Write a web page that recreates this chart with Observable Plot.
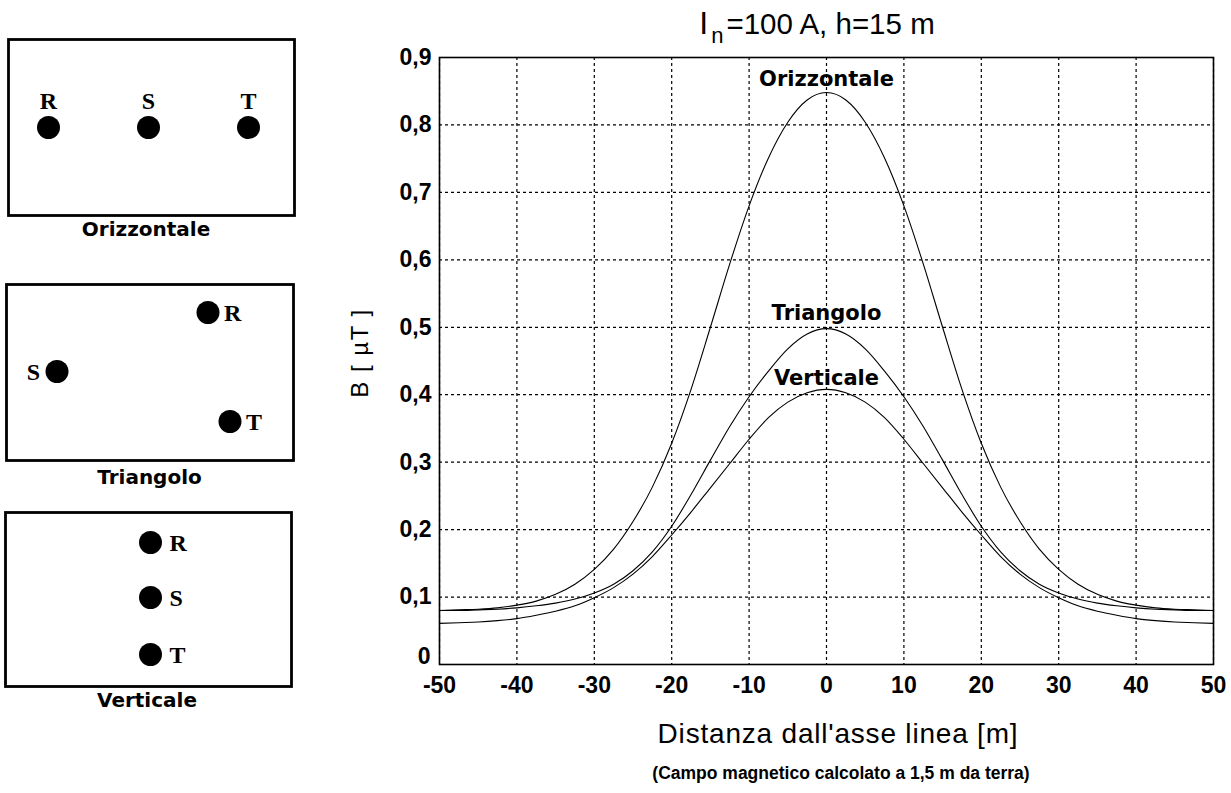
<!DOCTYPE html>
<html>
<head>
<meta charset="utf-8">
<script src="https://cdn.jsdelivr.net/npm/d3@7"></script>
<script src="https://cdn.jsdelivr.net/npm/@observablehq/plot@0.6"></script>
<style>
  html, body { margin: 0; padding: 0; background: white; }
  #root { position: relative; width: 1231px; height: 793px; overflow: hidden; background: white; }
  .abs { position: absolute; }
  .cond { font-family: "DejaVu Sans", "Liberation Sans", Arial, sans-serif; font-weight: bold; }
  .boldarial { font-family: "Liberation Sans Narrow", "Liberation Sans", Arial, sans-serif; font-weight: bold; }
  .arial { font-family: "Liberation Sans", Arial, sans-serif; }
</style>
</head>
<body>
<div id="root"></div>
<script>
// ---------- data ----------
const distance = [-50,-47.5,-45,-42.5,-40,-37.5,-35,-32.5,-30,-27.5,-25,-22.5,-20,-17.5,-15,-12.5,-10,-7.5,-5,-2.5,0,
                  2.5,5,7.5,10,12.5,15,17.5,20,22.5,25,27.5,30,32.5,35,37.5,40,42.5,45,47.5,50];
const orizzontale = [0.080,0.081,0.082,0.084,0.088,0.094,0.104,0.119,0.141,0.171,0.212,0.263,0.328,0.408,0.500,0.594,0.680,0.751,0.804,0.837,0.848,
                     0.837,0.804,0.751,0.680,0.594,0.500,0.408,0.328,0.263,0.212,0.171,0.141,0.119,0.104,0.094,0.088,0.084,0.082,0.081,0.080];
const triangolo = [0.080,0.080,0.081,0.082,0.084,0.087,0.091,0.097,0.106,0.119,0.139,0.167,0.205,0.252,0.303,0.353,0.397,0.435,0.468,0.490,0.498,
                   0.490,0.468,0.435,0.397,0.353,0.303,0.252,0.205,0.167,0.139,0.119,0.106,0.097,0.091,0.087,0.084,0.082,0.081,0.080,0.080];
const verticale = [0.061,0.062,0.063,0.065,0.068,0.073,0.079,0.087,0.099,0.114,0.134,0.160,0.192,0.226,0.262,0.298,0.334,0.366,0.389,0.403,0.408,
                   0.403,0.389,0.366,0.334,0.298,0.262,0.226,0.192,0.160,0.134,0.114,0.099,0.087,0.079,0.073,0.068,0.065,0.063,0.062,0.061];
const configNames = ["Orizzontale","Triangolo","Verticale"];
const curveLabelX = [0, 0, 0];
const curveLabelY = [0.868, 0.521, 0.424];
const xTicks = [-50,-40,-30,-20,-10,0,10,20,30,40,50];
const xTickLabels = ["-50","-40","-30","-20","-10","0","10","20","30","40","50"];
const yTicks = [0,0.1,0.2,0.3,0.4,0.5,0.6,0.7,0.8,0.9];
const yTickLabels = ["0","0,1","0,2","0,3","0,4","0,5","0,6","0,7","0,8","0,9"];

// conductor layouts (schematic units, box spans x -1.43..1.43, y -0.88..0.88)
const phases = ["R","S","T"];
const orizX = [-1.03,-0.03,0.97], orizY = [0,0,0];
const triX = [0.58,-0.93,0.80],   triY = [0.60,0.01,-0.49];
const vertX = [0.02,0.02,0.02],   vertY = [0.57,0.02,-0.55];

// ---------- helpers ----------
const root = document.getElementById("root");
function place(el, left, top) {
  el.style.position = "absolute"; el.style.left = left + "px"; el.style.top = top + "px";
  root.appendChild(el); return el;
}
function div(html, cls, left, top, extra) {
  const d = document.createElement("div"); d.className = "abs " + (cls || ""); d.innerHTML = html;
  d.style.left = left + "px"; d.style.top = top + "px"; d.style.whiteSpace = "nowrap";
  Object.assign(d.style, extra || {}); root.appendChild(d); return d;
}

// ---------- main chart ----------
const series = [orizzontale, triangolo, verticale];
const rows = [];
series.forEach((vals, k) => distance.forEach((x, i) => rows.push({x, y: vals[i], config: configNames[k]})));
const labelRows = configNames.map((n, i) => ({x: curveLabelX[i], y: curveLabelY[i], text: n}));
const xTickRows = xTicks.map((v, i) => ({v, label: xTickLabels[i]}));
const yTickRows = yTicks.map((v, i) => ({v, label: yTickLabels[i]}));
const tickFont = {fontFamily: '"Liberation Sans", Arial, sans-serif', fontWeight: "bold", fontSize: 23, fill: "black"};

const main = Plot.plot({
  width: 901, height: 700,
  marginLeft: 109, marginRight: 18, marginTop: 57, marginBottom: 36,
  style: {background: "white", color: "black", overflow: "visible"},
  x: {domain: [-50, 50], axis: null},
  y: {domain: [0, 0.9], axis: null},
  marks: [
    Plot.gridX(xTicks, {stroke: "black", strokeOpacity: 1, strokeWidth: 1.2, strokeDasharray: "3,3"}),
    Plot.gridY(yTicks, {stroke: "black", strokeOpacity: 1, strokeWidth: 1.2, strokeDasharray: "3,3"}),
    Plot.text(xTickRows, {x: "v", frameAnchor: "bottom", text: "label", lineAnchor: "top", dy: 12, ...tickFont}),
    Plot.text(yTickRows.filter(d => d.v > 0), {y: "v", frameAnchor: "left", text: "label", textAnchor: "end", dx: -8, ...tickFont}),
    Plot.text(yTickRows.filter(d => d.v === 0), {y: "v", frameAnchor: "left", text: "label", textAnchor: "end", dx: -9, dy: -8, ...tickFont}),
    Plot.line(rows, {x: "x", y: "y", z: "config", stroke: "black", strokeWidth: 1.1, curve: "monotone-x"}),
    Plot.text(labelRows, {x: "x", y: "y", text: "text", fontFamily: '"DejaVu Sans", sans-serif', fontWeight: "bold", fontSize: 21, fill: "black"}),
    Plot.frame({stroke: "black", strokeWidth: 1.6})
  ]
});
place(main, 330, 0);

// titles & labels
div('<span style="font-size:32px">I</span><span style="font-size:22px;position:relative;top:9px;margin:0 3px 0 3px">n</span>=100 A, h=15 m',
    "arial", 402, 5, {width: "830px", textAlign: "center", fontSize: "29.5px", color: "black"});
div("Distanza dall'asse linea [m]", "arial", 440, 718, {width: "796px", textAlign: "center", fontSize: "28px", letterSpacing: "0.8px"});
div("(Campo magnetico calcolato a 1,5 m da terra)", "boldarial", 440, 763, {width: "802px", textAlign: "center", fontSize: "17.5px"});
div("B [ µT ]", "arial", 310, 339, {fontSize: "24px", letterSpacing: "1.5px", width: "100px", textAlign: "center",
    transform: "rotate(-90deg)", transformOrigin: "50% 50%"});

// ---------- conductor panels ----------
const serifFont = {fontFamily: '"Liberation Serif", "DejaVu Serif", serif', fontWeight: "bold", fontSize: 24, fill: "black"};
function panel(xs, ys, labelMarks, left, top, w, h, caption, capTop, capShift) {
  const data = phases.map((p, i) => ({x: xs[i], y: ys[i], p}));
  const p = Plot.plot({
    width: w + 4, height: h + 4, margin: 2,
    style: {background: "white", overflow: "visible"},
    x: {domain: [-w / 200, w / 200], axis: null},
    y: {domain: [-h / 200, h / 200], axis: null},
    marks: [
      Plot.frame({stroke: "black", strokeWidth: 2.8}),
      Plot.dot(data, {x: "x", y: "y", r: 11.5, fill: "black", stroke: "none"}),
      ...labelMarks.map(o => Plot.text(data, {x: "x", y: "y", text: "p", ...serifFont, ...o}))
    ]
  });
  place(p, left - 2, top - 2);
  div(caption, "cond", left + capShift, capTop, {width: w + "px", textAlign: "center", fontSize: "20px"});
}
panel(orizX, orizY, [{dy: -26, textAnchor: "middle"}], 8, 39, 286, 176, "Orizzontale", 217, -5);
panel(triX, triY, [
  {filter: d => d.p !== "S", dx: 16, dy: 1, textAnchor: "start"},
  {filter: d => d.p === "S", dx: -17, dy: 1, textAnchor: "end"}
], 6, 284, 287, 176, "Triangolo", 465, 0);
panel(vertX, vertY, [{dx: 19, dy: 1, textAnchor: "start"}], 5, 512, 286, 174, "Verticale", 688, -1);
</script>
</body>
</html>
